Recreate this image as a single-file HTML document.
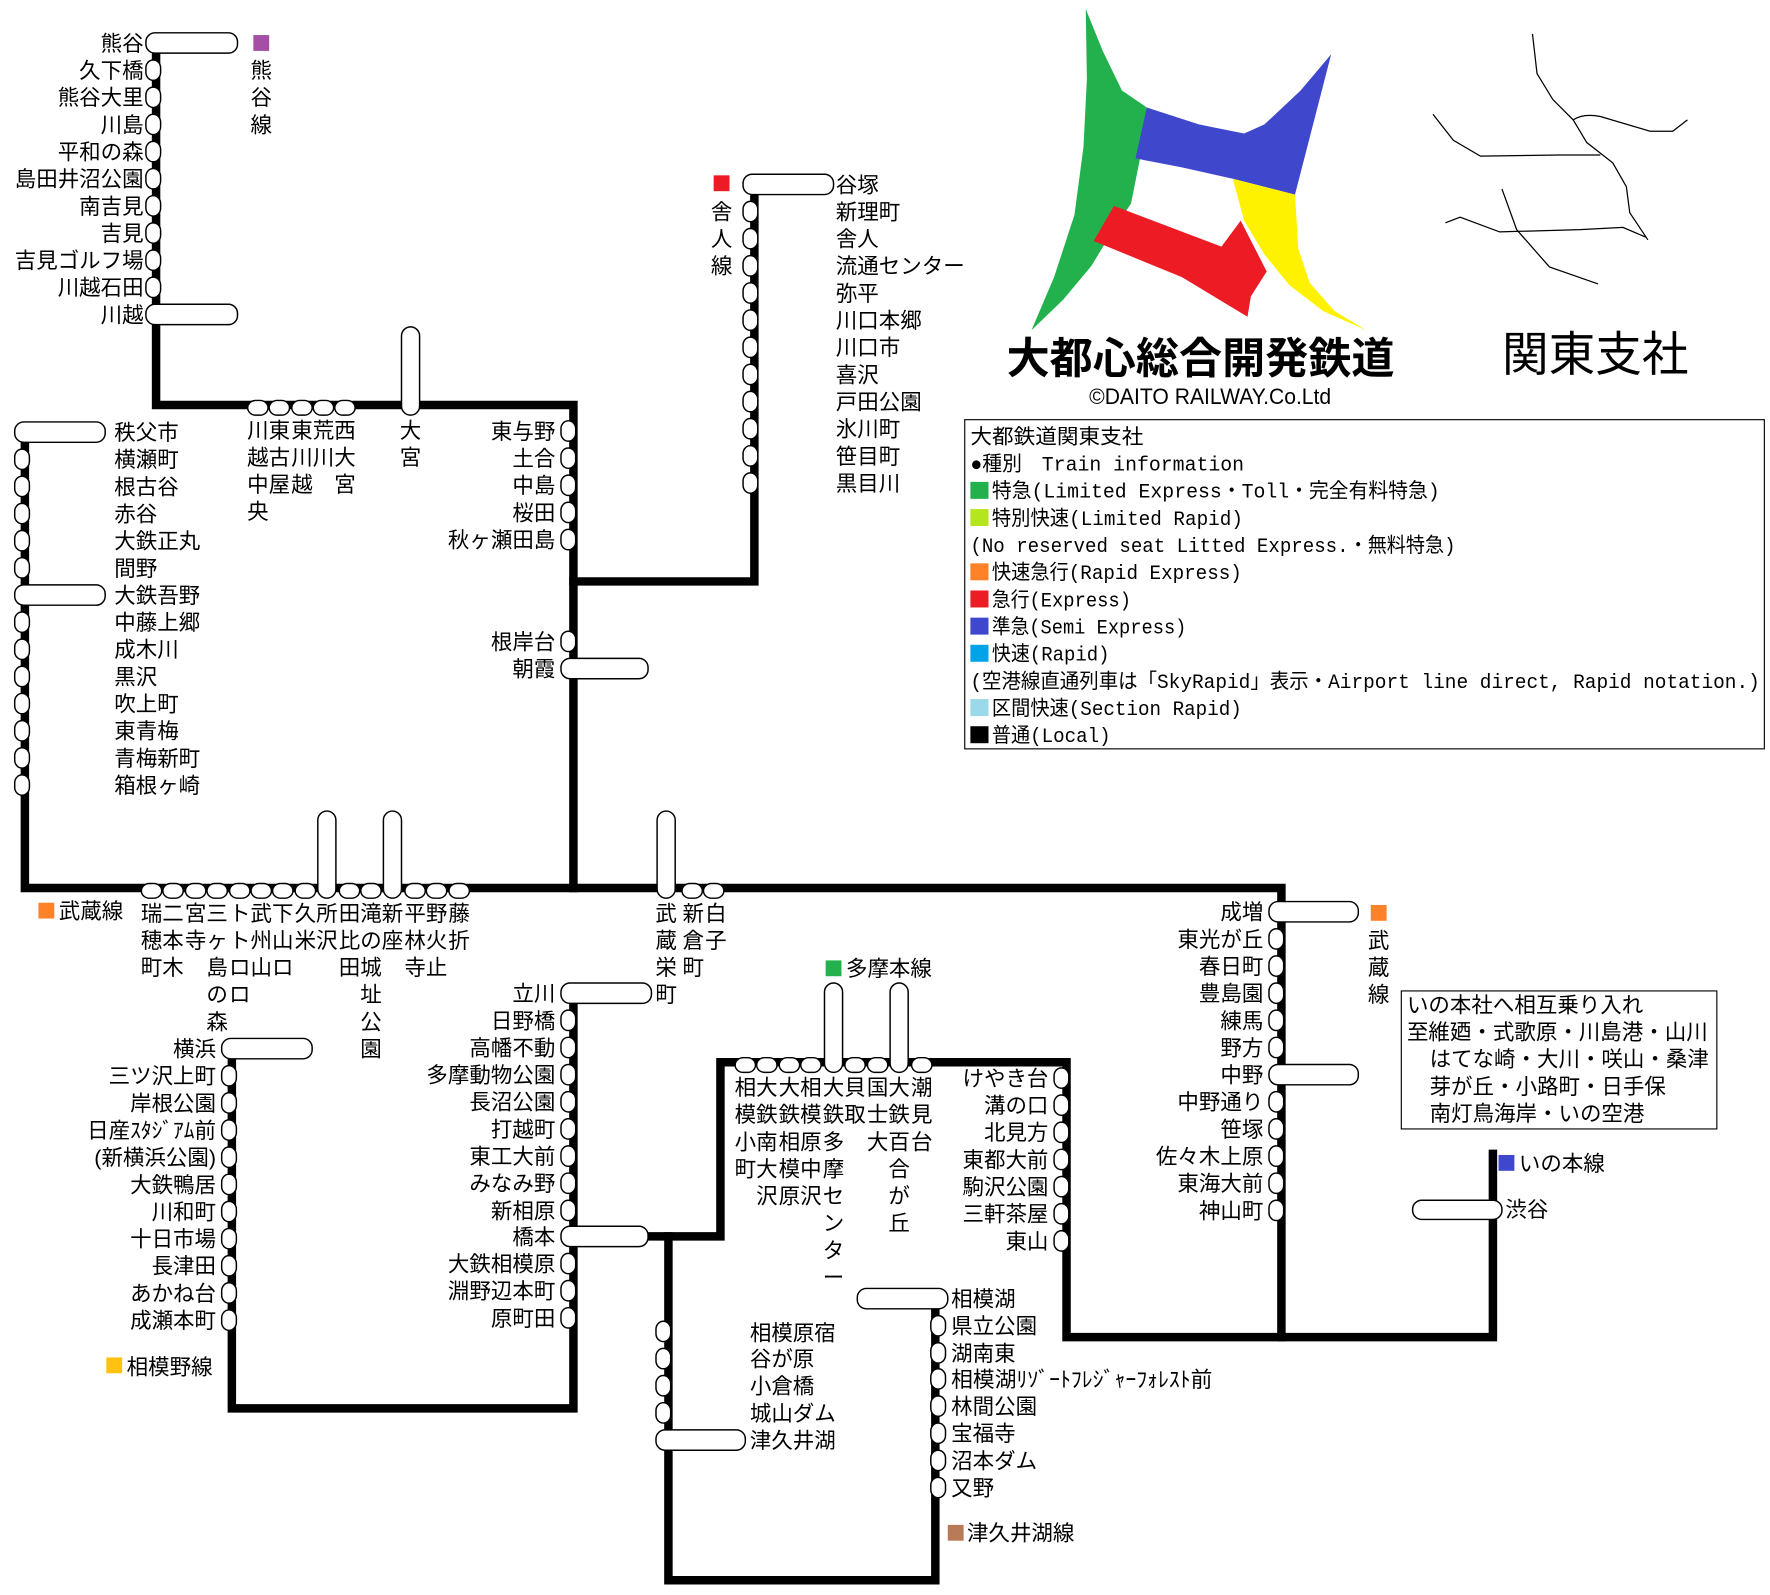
<!DOCTYPE html>
<html><head><meta charset="utf-8"><style>
html,body{margin:0;padding:0;background:#fff;width:1770px;height:1595px;overflow:hidden}
svg{display:block}
text{font-family:"Liberation Sans","Noto Sans CJK JP",sans-serif;font-size:19px;fill:#000}
.s{fill:#fff;stroke:#000;stroke-width:1.3}
.ln{fill:none;stroke:#000;stroke-width:7.5;stroke-linejoin:miter;stroke-linecap:square}
.e{text-anchor:end}.m{text-anchor:middle}
.lg text{font-family:"Liberation Mono","Noto Sans CJK JP",monospace;font-size:18px}
</style></head><body>
<svg width="1770" height="1595" viewBox="0 0 1565 1410" preserveAspectRatio="none" xmlns="http://www.w3.org/2000/svg">
<path class="ln" d="M138 38 V358 H507 V785"/>
<path class="ln" d="M22 382 V785 H1133 V1182"/>
<path class="ln" d="M507 514 H667 V163"/>
<path class="ln" d="M205 927 V1245 H507 V878"/>
<path class="ln" d="M507 1093 H637 V939 H943 V1182 H1320 V1020"/>
<path class="ln" d="M591 1093 V1397 H827 V1148"/>

<g>
<rect class="s" x="129" y="29" width="81" height="18" rx="8"/>
<rect class="s" x="129" y="53" width="13" height="18" rx="7"/>
<rect class="s" x="129" y="77" width="13" height="18" rx="7"/>
<rect class="s" x="129" y="101" width="13" height="18" rx="7"/>
<rect class="s" x="129" y="125" width="13" height="18" rx="7"/>
<rect class="s" x="129" y="149" width="13" height="18" rx="7"/>
<rect class="s" x="129" y="173" width="13" height="18" rx="7"/>
<rect class="s" x="129" y="197" width="13" height="18" rx="7"/>
<rect class="s" x="129" y="221" width="13" height="18" rx="7"/>
<rect class="s" x="129" y="245" width="13" height="18" rx="7"/>
<rect class="s" x="129" y="269" width="81" height="18" rx="8"/>
<text class="e" x="127" y="45">熊谷</text>
<text class="e" x="127" y="69">久下橋</text>
<text class="e" x="127" y="93">熊谷大里</text>
<text class="e" x="127" y="117">川島</text>
<text class="e" x="127" y="141">平和の森</text>
<text class="e" x="127" y="165">島田井沼公園</text>
<text class="e" x="127" y="189">南吉見</text>
<text class="e" x="127" y="213">吉見</text>
<text class="e" x="127" y="237">吉見ゴルフ場</text>
<text class="e" x="127" y="261">川越石田</text>
<text class="e" x="127" y="285">川越</text>
<rect x="224" y="31" width="14" height="14" fill="#a54ea5"/>
<text class="m" x="231" y="69">熊</text><text class="m" x="231" y="93">谷</text><text class="m" x="231" y="117">線</text>
</g>

<rect class="s" x="219" y="354" width="18" height="13" rx="7"/>
<rect class="s" x="238" y="354" width="18" height="13" rx="7"/>
<rect class="s" x="258" y="354" width="18" height="13" rx="7"/>
<rect class="s" x="277" y="354" width="18" height="13" rx="7"/>
<rect class="s" x="296" y="354" width="18" height="13" rx="7"/>
<rect class="s" x="355" y="289" width="16" height="78" rx="8"/>
<text class="m" x="228" y="387">川</text><text class="m" x="228" y="411">越</text><text class="m" x="228" y="435">中</text><text class="m" x="228" y="459">央</text>
<text class="m" x="247" y="387">東</text><text class="m" x="247" y="411">古</text><text class="m" x="247" y="435">屋</text>
<text class="m" x="267" y="387">東</text><text class="m" x="267" y="411">川</text><text class="m" x="267" y="435">越</text>
<text class="m" x="286" y="387">荒</text><text class="m" x="286" y="411">川</text>
<text class="m" x="305" y="387">西</text><text class="m" x="305" y="411">大</text><text class="m" x="305" y="435">宮</text>
<text class="m" x="363" y="387">大</text><text class="m" x="363" y="411">宮</text>

<rect class="s" x="496" y="372" width="13" height="18" rx="7"/>
<rect class="s" x="496" y="396" width="13" height="18" rx="7"/>
<rect class="s" x="496" y="420" width="13" height="18" rx="7"/>
<rect class="s" x="496" y="444" width="13" height="18" rx="7"/>
<rect class="s" x="496" y="468" width="13" height="18" rx="7"/>
<rect class="s" x="496" y="558" width="13" height="18" rx="7"/>
<rect class="s" x="496" y="582" width="77" height="18" rx="8"/>
<text class="e" x="491" y="388">東与野</text>
<text class="e" x="491" y="412">土合</text>
<text class="e" x="491" y="436">中島</text>
<text class="e" x="491" y="460">桜田</text>
<text class="e" x="491" y="484">秋ヶ瀬田島</text>
<text class="e" x="491" y="574">根岸台</text>
<text class="e" x="491" y="598">朝霞</text>

<rect class="s" x="657" y="154" width="80" height="18" rx="8"/>
<rect class="s" x="657" y="178" width="13" height="18" rx="7"/>
<rect class="s" x="657" y="202" width="13" height="18" rx="7"/>
<rect class="s" x="657" y="226" width="13" height="18" rx="7"/>
<rect class="s" x="657" y="250" width="13" height="18" rx="7"/>
<rect class="s" x="657" y="274" width="13" height="18" rx="7"/>
<rect class="s" x="657" y="298" width="13" height="18" rx="7"/>
<rect class="s" x="657" y="322" width="13" height="18" rx="7"/>
<rect class="s" x="657" y="346" width="13" height="18" rx="7"/>
<rect class="s" x="657" y="370" width="13" height="18" rx="7"/>
<rect class="s" x="657" y="394" width="13" height="18" rx="7"/>
<rect class="s" x="657" y="418" width="13" height="18" rx="7"/>
<text x="739" y="170">谷塚</text>
<text x="739" y="194">新理町</text>
<text x="739" y="218">舎人</text>
<text x="739" y="242">流通センター</text>
<text x="739" y="266">弥平</text>
<text x="739" y="290">川口本郷</text>
<text x="739" y="314">川口市</text>
<text x="739" y="338">喜沢</text>
<text x="739" y="362">戸田公園</text>
<text x="739" y="386">氷川町</text>
<text x="739" y="410">笹目町</text>
<text x="739" y="434">黒目川</text>
<rect x="631" y="155" width="14" height="14" fill="#ed1c24"/>
<text class="m" x="638" y="194">舎</text><text class="m" x="638" y="218">人</text><text class="m" x="638" y="242">線</text>

<rect class="s" x="13" y="373" width="80" height="18" rx="8"/>
<rect class="s" x="13" y="397" width="13" height="18" rx="7"/>
<rect class="s" x="13" y="421" width="13" height="18" rx="7"/>
<rect class="s" x="13" y="445" width="13" height="18" rx="7"/>
<rect class="s" x="13" y="469" width="13" height="18" rx="7"/>
<rect class="s" x="13" y="493" width="13" height="18" rx="7"/>
<rect class="s" x="13" y="517" width="80" height="18" rx="8"/>
<rect class="s" x="13" y="541" width="13" height="18" rx="7"/>
<rect class="s" x="13" y="565" width="13" height="18" rx="7"/>
<rect class="s" x="13" y="589" width="13" height="18" rx="7"/>
<rect class="s" x="13" y="613" width="13" height="18" rx="7"/>
<rect class="s" x="13" y="637" width="13" height="18" rx="7"/>
<rect class="s" x="13" y="661" width="13" height="18" rx="7"/>
<rect class="s" x="13" y="685" width="13" height="18" rx="7"/>
<text x="101" y="389">秩父市</text>
<text x="101" y="413">横瀬町</text>
<text x="101" y="437">根古谷</text>
<text x="101" y="461">赤谷</text>
<text x="101" y="485">大鉄正丸</text>
<text x="101" y="509">間野</text>
<text x="101" y="533">大鉄吾野</text>
<text x="101" y="557">中藤上郷</text>
<text x="101" y="581">成木川</text>
<text x="101" y="605">黒沢</text>
<text x="101" y="629">吹上町</text>
<text x="101" y="653">東青梅</text>
<text x="101" y="677">青梅新町</text>
<text x="101" y="701">箱根ヶ崎</text>

<rect class="s" x="125" y="781" width="18" height="13" rx="7"/>
<rect class="s" x="144" y="781" width="18" height="13" rx="7"/>
<rect class="s" x="164" y="781" width="18" height="13" rx="7"/>
<rect class="s" x="183" y="781" width="18" height="13" rx="7"/>
<rect class="s" x="203" y="781" width="18" height="13" rx="7"/>
<rect class="s" x="222" y="781" width="18" height="13" rx="7"/>
<rect class="s" x="241" y="781" width="18" height="13" rx="7"/>
<rect class="s" x="261" y="781" width="18" height="13" rx="7"/>
<rect class="s" x="281" y="717" width="16" height="77" rx="8"/>
<rect class="s" x="300" y="781" width="18" height="13" rx="7"/>
<rect class="s" x="319" y="781" width="18" height="13" rx="7"/>
<rect class="s" x="339" y="717" width="16" height="77" rx="8"/>
<rect class="s" x="358" y="781" width="18" height="13" rx="7"/>
<rect class="s" x="377" y="781" width="18" height="13" rx="7"/>
<rect class="s" x="397" y="781" width="18" height="13" rx="7"/>
<rect class="s" x="581" y="717" width="16" height="77" rx="8"/>
<rect class="s" x="603" y="781" width="18" height="13" rx="7"/>
<rect class="s" x="622" y="781" width="18" height="13" rx="7"/>
<g>
<text class="m" x="134" y="814">瑞</text><text class="m" x="134" y="838">穂</text><text class="m" x="134" y="862">町</text>
<text class="m" x="153" y="814">二</text><text class="m" x="153" y="838">本</text><text class="m" x="153" y="862">木</text>
<text class="m" x="173" y="814">宮</text><text class="m" x="173" y="838">寺</text>
<text class="m" x="192" y="814">三</text><text class="m" x="192" y="838">ヶ</text><text class="m" x="192" y="862">島</text><text class="m" x="192" y="886">の</text><text class="m" x="192" y="910">森</text>
<text class="m" x="212" y="814">ト</text><text class="m" x="212" y="838">ト</text><text class="m" x="212" y="862">ロ</text><text class="m" x="212" y="886">ロ</text>
<text class="m" x="231" y="814">武</text><text class="m" x="231" y="838">州</text><text class="m" x="231" y="862">山</text>
<text class="m" x="250" y="814">下</text><text class="m" x="250" y="838">山</text><text class="m" x="250" y="862">ロ</text>
<text class="m" x="270" y="814">久</text><text class="m" x="270" y="838">米</text>
<text class="m" x="289" y="814">所</text><text class="m" x="289" y="838">沢</text>
<text class="m" x="309" y="814">田</text><text class="m" x="309" y="838">比</text><text class="m" x="309" y="862">田</text>
<text class="m" x="328" y="814">滝</text><text class="m" x="328" y="838">の</text><text class="m" x="328" y="862">城</text><text class="m" x="328" y="886">址</text><text class="m" x="328" y="910">公</text><text class="m" x="328" y="934">園</text>
<text class="m" x="347" y="814">新</text><text class="m" x="347" y="838">座</text>
<text class="m" x="367" y="814">平</text><text class="m" x="367" y="838">林</text><text class="m" x="367" y="862">寺</text>
<text class="m" x="386" y="814">野</text><text class="m" x="386" y="838">火</text><text class="m" x="386" y="862">止</text>
<text class="m" x="406" y="814">藤</text><text class="m" x="406" y="838">折</text>
<text class="m" x="589" y="814">武</text><text class="m" x="589" y="838">蔵</text><text class="m" x="589" y="862">栄</text><text class="m" x="589" y="886">町</text>
<text class="m" x="613" y="814">新</text><text class="m" x="613" y="838">倉</text><text class="m" x="613" y="862">町</text>
<text class="m" x="633" y="814">白</text><text class="m" x="633" y="838">子</text>
</g>
<rect x="34" y="798" width="14" height="14" fill="#ff8228"/>
<text x="52" y="812">武蔵線</text>

<rect class="s" x="196" y="918" width="80" height="18" rx="8"/>
<rect class="s" x="196" y="942" width="13" height="18" rx="7"/>
<rect class="s" x="196" y="966" width="13" height="18" rx="7"/>
<rect class="s" x="196" y="990" width="13" height="18" rx="7"/>
<rect class="s" x="196" y="1014" width="13" height="18" rx="7"/>
<rect class="s" x="196" y="1038" width="13" height="18" rx="7"/>
<rect class="s" x="196" y="1062" width="13" height="18" rx="7"/>
<rect class="s" x="196" y="1086" width="13" height="18" rx="7"/>
<rect class="s" x="196" y="1110" width="13" height="18" rx="7"/>
<rect class="s" x="196" y="1134" width="13" height="18" rx="7"/>
<rect class="s" x="196" y="1158" width="13" height="18" rx="7"/>
<text class="e" x="191" y="934">横浜</text>
<text class="e" x="191" y="958">三ツ沢上町</text>
<text class="e" x="191" y="982">岸根公園</text>
<text class="e" x="191" y="1006">日産ｽﾀｼﾞｱﾑ前</text>
<text class="e" x="191" y="1030">(新横浜公園)</text>
<text class="e" x="191" y="1054">大鉄鴨居</text>
<text class="e" x="191" y="1078">川和町</text>
<text class="e" x="191" y="1102">十日市場</text>
<text class="e" x="191" y="1126">長津田</text>
<text class="e" x="191" y="1150">あかね台</text>
<text class="e" x="191" y="1174">成瀬本町</text>
<rect x="94" y="1200" width="14" height="14" fill="#ffc20e"/>
<text x="112" y="1215">相模野線</text>

<rect class="s" x="496" y="869" width="80" height="18" rx="8"/>
<rect class="s" x="496" y="893" width="13" height="18" rx="7"/>
<rect class="s" x="496" y="917" width="13" height="18" rx="7"/>
<rect class="s" x="496" y="941" width="13" height="18" rx="7"/>
<rect class="s" x="496" y="965" width="13" height="18" rx="7"/>
<rect class="s" x="496" y="989" width="13" height="18" rx="7"/>
<rect class="s" x="496" y="1013" width="13" height="18" rx="7"/>
<rect class="s" x="496" y="1037" width="13" height="18" rx="7"/>
<rect class="s" x="496" y="1061" width="13" height="18" rx="7"/>
<rect class="s" x="496" y="1084" width="77" height="18" rx="8"/>
<rect class="s" x="496" y="1108" width="13" height="18" rx="7"/>
<rect class="s" x="496" y="1132" width="13" height="18" rx="7"/>
<rect class="s" x="496" y="1156" width="13" height="18" rx="7"/>
<text class="e" x="491" y="885">立川</text>
<text class="e" x="491" y="909">日野橋</text>
<text class="e" x="491" y="933">高幡不動</text>
<text class="e" x="491" y="957">多摩動物公園</text>
<text class="e" x="491" y="981">長沼公園</text>
<text class="e" x="491" y="1005">打越町</text>
<text class="e" x="491" y="1029">東工大前</text>
<text class="e" x="491" y="1053">みなみ野</text>
<text class="e" x="491" y="1077">新相原</text>
<text class="e" x="491" y="1100">橋本</text>
<text class="e" x="491" y="1124">大鉄相模原</text>
<text class="e" x="491" y="1148">淵野辺本町</text>
<text class="e" x="491" y="1172">原町田</text>

<rect class="s" x="650" y="935" width="18" height="13" rx="7"/>
<rect class="s" x="669" y="935" width="18" height="13" rx="7"/>
<rect class="s" x="689" y="935" width="18" height="13" rx="7"/>
<rect class="s" x="708" y="935" width="18" height="13" rx="7"/>
<rect class="s" x="729" y="869" width="16" height="79" rx="8"/>
<rect class="s" x="747" y="935" width="18" height="13" rx="7"/>
<rect class="s" x="767" y="935" width="18" height="13" rx="7"/>
<rect class="s" x="787" y="869" width="16" height="79" rx="8"/>
<rect class="s" x="806" y="935" width="18" height="13" rx="7"/>
<text class="m" x="659" y="968">相</text><text class="m" x="659" y="992">模</text><text class="m" x="659" y="1016">小</text><text class="m" x="659" y="1040">町</text>
<text class="m" x="678" y="968">大</text><text class="m" x="678" y="992">鉄</text><text class="m" x="678" y="1016">南</text><text class="m" x="678" y="1040">大</text><text class="m" x="678" y="1064">沢</text>
<text class="m" x="698" y="968">大</text><text class="m" x="698" y="992">鉄</text><text class="m" x="698" y="1016">相</text><text class="m" x="698" y="1040">模</text><text class="m" x="698" y="1064">原</text>
<text class="m" x="717" y="968">相</text><text class="m" x="717" y="992">模</text><text class="m" x="717" y="1016">原</text><text class="m" x="717" y="1040">中</text><text class="m" x="717" y="1064">沢</text>
<text class="m" x="737" y="968">大</text><text class="m" x="737" y="992">鉄</text><text class="m" x="737" y="1016">多</text><text class="m" x="737" y="1040">摩</text><text class="m" x="737" y="1064">セ</text><text class="m" x="737" y="1088">ン</text><text class="m" x="737" y="1112">タ</text><text class="m" x="737" y="1136">ー</text>
<text class="m" x="756" y="968">貝</text><text class="m" x="756" y="992">取</text>
<text class="m" x="776" y="968">国</text><text class="m" x="776" y="992">士</text><text class="m" x="776" y="1016">大</text>
<text class="m" x="795" y="968">大</text><text class="m" x="795" y="992">鉄</text><text class="m" x="795" y="1016">百</text><text class="m" x="795" y="1040">合</text><text class="m" x="795" y="1064">が</text><text class="m" x="795" y="1088">丘</text>
<text class="m" x="815" y="968">潮</text><text class="m" x="815" y="992">見</text><text class="m" x="815" y="1016">台</text>
<rect x="730" y="849" width="14" height="14" fill="#22b14c"/>
<text x="748" y="863">多摩本線</text>

<rect class="s" x="932" y="944" width="13" height="18" rx="7"/>
<rect class="s" x="932" y="968" width="13" height="18" rx="7"/>
<rect class="s" x="932" y="992" width="13" height="18" rx="7"/>
<rect class="s" x="932" y="1016" width="13" height="18" rx="7"/>
<rect class="s" x="932" y="1040" width="13" height="18" rx="7"/>
<rect class="s" x="932" y="1064" width="13" height="18" rx="7"/>
<rect class="s" x="932" y="1088" width="13" height="18" rx="7"/>
<text class="e" x="927" y="960">けやき台</text>
<text class="e" x="927" y="984">溝の口</text>
<text class="e" x="927" y="1008">北見方</text>
<text class="e" x="927" y="1032">東都大前</text>
<text class="e" x="927" y="1056">駒沢公園</text>
<text class="e" x="927" y="1080">三軒茶屋</text>
<text class="e" x="927" y="1104">東山</text>

<rect class="s" x="1122" y="797" width="79" height="18" rx="8"/>
<rect class="s" x="1122" y="821" width="13" height="18" rx="7"/>
<rect class="s" x="1122" y="845" width="13" height="18" rx="7"/>
<rect class="s" x="1122" y="869" width="13" height="18" rx="7"/>
<rect class="s" x="1122" y="893" width="13" height="18" rx="7"/>
<rect class="s" x="1122" y="917" width="13" height="18" rx="7"/>
<rect class="s" x="1122" y="941" width="79" height="18" rx="8"/>
<rect class="s" x="1122" y="965" width="13" height="18" rx="7"/>
<rect class="s" x="1122" y="989" width="13" height="18" rx="7"/>
<rect class="s" x="1122" y="1013" width="13" height="18" rx="7"/>
<rect class="s" x="1122" y="1037" width="13" height="18" rx="7"/>
<rect class="s" x="1122" y="1061" width="13" height="18" rx="7"/>
<text class="e" x="1117" y="813">成増</text>
<text class="e" x="1117" y="837">東光が丘</text>
<text class="e" x="1117" y="861">春日町</text>
<text class="e" x="1117" y="885">豊島園</text>
<text class="e" x="1117" y="909">練馬</text>
<text class="e" x="1117" y="933">野方</text>
<text class="e" x="1117" y="957">中野</text>
<text class="e" x="1117" y="981">中野通り</text>
<text class="e" x="1117" y="1005">笹塚</text>
<text class="e" x="1117" y="1029">佐々木上原</text>
<text class="e" x="1117" y="1053">東海大前</text>
<text class="e" x="1117" y="1077">神山町</text>
<rect x="1212" y="800" width="14" height="14" fill="#ff8228"/>
<text class="m" x="1219" y="838">武</text><text class="m" x="1219" y="862">蔵</text><text class="m" x="1219" y="886">線</text>

<rect x="1239" y="876" width="279" height="122" fill="none" stroke="#000" stroke-width="1"/>
<text x="1244" y="895">いの本社へ相互乗り入れ</text>
<text x="1244" y="919">至維廼・式歌原・川島港・山川</text>
<text x="1264" y="943">はてな崎・大川・咲山・桑津</text>
<text x="1264" y="967">芽が丘・小路町・日手保</text>
<text x="1264" y="991">南灯鳥海岸・いの空港</text>

<rect x="1325" y="1021" width="14" height="14" fill="#3f48cc"/>
<text x="1343" y="1035">いの本線</text>
<rect class="s" x="1249" y="1061" width="79" height="17" rx="8"/>
<text x="1331" y="1076">渋谷</text>

<rect class="s" x="580" y="1168" width="13" height="18" rx="7"/>
<rect class="s" x="580" y="1192" width="13" height="18" rx="7"/>
<rect class="s" x="580" y="1216" width="13" height="18" rx="7"/>
<rect class="s" x="580" y="1240" width="13" height="18" rx="7"/>
<rect class="s" x="580" y="1264" width="79" height="18" rx="8"/>
<text x="663" y="1185">相模原宿</text>
<text x="663" y="1208">谷が原</text>
<text x="663" y="1232">小倉橋</text>
<text x="663" y="1256">城山ダム</text>
<text x="663" y="1280">津久井湖</text>
<rect class="s" x="758" y="1139" width="80" height="18" rx="8"/>
<rect class="s" x="823" y="1163" width="13" height="18" rx="7"/>
<rect class="s" x="823" y="1187" width="13" height="18" rx="7"/>
<rect class="s" x="823" y="1210" width="13" height="18" rx="7"/>
<rect class="s" x="823" y="1234" width="13" height="18" rx="7"/>
<rect class="s" x="823" y="1258" width="13" height="18" rx="7"/>
<rect class="s" x="823" y="1282" width="13" height="18" rx="7"/>
<rect class="s" x="823" y="1306" width="13" height="18" rx="7"/>
<text x="841" y="1155">相模湖</text>
<text x="841" y="1179">県立公園</text>
<text x="841" y="1203">湖南東</text>
<text x="841" y="1226" textLength="231" lengthAdjust="spacingAndGlyphs">相模湖ﾘｿﾞｰﾄﾌﾚｼﾞｬｰﾌｫﾚｽﾄ前</text>
<text x="841" y="1250">林間公園</text>
<text x="841" y="1274">宝福寺</text>
<text x="841" y="1298">沼本ダム</text>
<text x="841" y="1322">又野</text>
<rect x="838" y="1348" width="14" height="14" fill="#b97a57"/>
<text x="855" y="1362">津久井湖線</text>

<path fill="#22b14c" d="M960 8 L975 45 L992 80 L1014 95 L1008 140 L1000 180 L985 202 L965 235 L940 265 L912 292 L932 245 L950 190 L958 130 L961 70 Z"/>
<path fill="#3f48cc" d="M1014 95 L1060 110 L1100 118 L1118 110 L1150 80 L1177 48 L1145 172 L1090 158 L1045 148 L1004 140 Z"/>
<path fill="#fff200" d="M1090 158 L1145 172 L1148 220 L1158 250 L1180 275 L1208 292 L1170 275 L1140 252 L1118 225 L1100 195 Z"/>
<path fill="#ed1c24" d="M985 182 L1080 218 L1097 195 L1120 240 L1106 262 L1103 280 L1045 245 L967 213 Z"/>
<text x="890" y="330" textLength="343" lengthAdjust="spacingAndGlyphs" style="font-size:38px;font-weight:bold;font-family:'Noto Sans CJK JP',sans-serif">大都心総合開発鉄道</text>
<text x="1328" y="328" textLength="165" lengthAdjust="spacingAndGlyphs" style="font-size:42px;font-family:'Noto Sans CJK JP',sans-serif">関東支社</text>
<text x="963" y="357" textLength="214" lengthAdjust="spacingAndGlyphs" style="font-size:20px;font-family:'Liberation Sans Narrow','Liberation Sans',sans-serif">©DAITO RAILWAY.Co.Ltd</text>
<g fill="none" stroke="#000" stroke-width="1.1">
<path d="M1355 30 L1359 65 L1373 88 L1391 106 L1403 126 L1426 144 L1438 165 L1441 188 L1457 212"/>
<path d="M1391 106 Q1400 100 1415 103 L1459 116 L1479 116 L1492 106"/>
<path d="M1267 101 L1285 124 L1309 138 L1379 137 L1415 137"/>
<path d="M1328 167 L1341 203 L1370 236 L1413 251"/>
<path d="M1278 197 L1291 192 L1326 205 L1397 203 L1435 201 L1456 210"/>
</g>

<rect x="853" y="371" width="707" height="291" fill="none" stroke="#000" stroke-width="1"/>
<g class="lg">
<text x="858" y="392" textLength="153" lengthAdjust="spacingAndGlyphs">大都鉄道関東支社</text>
<text x="858" y="416" textLength="242" lengthAdjust="spacingAndGlyphs">●種別　Train information</text>
<rect x="858" y="426" width="16" height="15" fill="#22b14c"/>
<text x="877" y="440" textLength="396" lengthAdjust="spacingAndGlyphs">特急(Limited Express・Toll・完全有料特急)</text>
<rect x="858" y="450" width="16" height="15" fill="#b5e61d"/>
<text x="877" y="464" textLength="222" lengthAdjust="spacingAndGlyphs">特別快速(Limited Rapid)</text>
<text x="858" y="488" textLength="429" lengthAdjust="spacingAndGlyphs">(No reserved seat Litted Express.・無料特急)</text>
<rect x="858" y="498" width="16" height="15" fill="#ff8228"/>
<text x="877" y="512" textLength="221" lengthAdjust="spacingAndGlyphs">快速急行(Rapid Express)</text>
<rect x="858" y="522" width="16" height="15" fill="#ed1c24"/>
<text x="877" y="536" textLength="123" lengthAdjust="spacingAndGlyphs">急行(Express)</text>
<rect x="858" y="546" width="16" height="15" fill="#3f48cc"/>
<text x="877" y="560" textLength="172" lengthAdjust="spacingAndGlyphs">準急(Semi Express)</text>
<rect x="858" y="570" width="16" height="15" fill="#00a2e8"/>
<text x="877" y="584" textLength="104" lengthAdjust="spacingAndGlyphs">快速(Rapid)</text>
<text x="858" y="608" textLength="698" lengthAdjust="spacingAndGlyphs">(空港線直通列車は「SkyRapid」表示・Airport line direct, Rapid notation.)</text>
<rect x="858" y="618" width="16" height="15" fill="#99d9ea"/>
<text x="877" y="632" textLength="221" lengthAdjust="spacingAndGlyphs">区間快速(Section Rapid)</text>
<rect x="858" y="642" width="16" height="15" fill="#000"/>
<text x="877" y="656" textLength="105" lengthAdjust="spacingAndGlyphs">普通(Local)</text>
</g>
</svg>
</body></html>
